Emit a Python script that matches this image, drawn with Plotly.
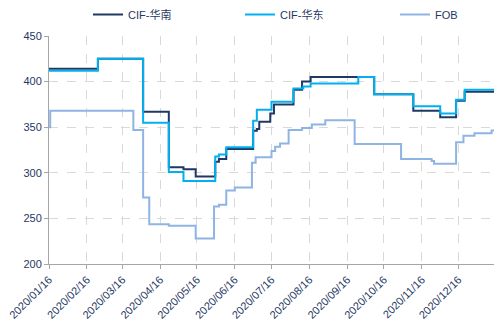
import plotly.graph_objects as go

# Price steps: each value holds from its date until the next date
south_dates = ["2020-01-16", "2020-02-25", "2020-04-02", "2020-04-23", "2020-05-05",
               "2020-05-15", "2020-05-31", "2020-06-03", "2020-06-09", "2020-07-01",
               "2020-07-04", "2020-07-06", "2020-07-15", "2020-07-18", "2020-08-03",
               "2020-08-10", "2020-08-17", "2020-10-08", "2020-11-09", "2020-12-01",
               "2020-12-14", "2020-12-21", "2021-01-14"]
south_values = [414, 425, 367, 306, 304,
                296, 312, 315, 326, 346,
                348, 356, 365, 375, 391,
                400, 405, 386, 368, 361,
                379, 389, 389]

east_dates = ["2020-01-16", "2020-02-25", "2020-04-02", "2020-04-23", "2020-05-05",
              "2020-05-31", "2020-06-03", "2020-06-09", "2020-07-01", "2020-07-04",
              "2020-07-16", "2020-08-03", "2020-08-11", "2020-08-17", "2020-09-25",
              "2020-10-08", "2020-11-09", "2020-12-01", "2020-12-14", "2020-12-21",
              "2021-01-14"]
east_values = [412, 425, 355, 301, 291,
               318, 320, 328, 357, 369,
               378, 392.5, 394.5, 398, 405,
               386, 373, 365, 380, 391,
               391]

fob_dates = ["2020-01-16", "2020-01-17", "2020-03-25", "2020-04-02", "2020-04-07",
             "2020-04-23", "2020-05-15", "2020-05-30", "2020-06-03", "2020-06-09",
             "2020-06-16", "2020-06-30", "2020-07-03", "2020-07-16", "2020-07-19",
             "2020-07-23", "2020-07-30", "2020-08-10", "2020-08-18", "2020-08-29",
             "2020-09-22", "2020-10-30", "2020-11-24", "2020-11-26", "2020-12-14",
             "2020-12-20", "2020-12-29", "2021-01-12", "2021-01-14"]
fob_values = [350, 368, 347, 273, 243.5,
              242, 228, 263, 265, 280.5,
              284, 311, 317, 324, 328.6,
              332, 347, 349, 353, 357.5,
              331.5, 315, 313, 310, 333.5,
              340.5, 343.5, 346.5, 346.5]

tick_dates = ["2020-01-16", "2020-02-16", "2020-03-16", "2020-04-16", "2020-05-16",
              "2020-06-16", "2020-07-16", "2020-08-16", "2020-09-16", "2020-10-16",
              "2020-11-16", "2020-12-16"]

navy = "#1f3864"
text_col = "#1f3864"
grid_col = "#d9d9d9"

fig = go.Figure()
fig.add_trace(go.Scatter(x=south_dates, y=south_values, name="CIF-华南", mode="lines",
                         line=dict(color=navy, width=2, shape="hv"), legend="legend"))
fig.add_trace(go.Scatter(x=east_dates, y=east_values, name="CIF-华东", mode="lines",
                         line=dict(color="#00b0f0", width=2, shape="hv"), legend="legend2"))
fig.add_trace(go.Scatter(x=fob_dates, y=fob_values, name="FOB", mode="lines",
                         line=dict(color="#8eb4e3", width=2, shape="hv"), legend="legend3"))

font_family = "Liberation Sans, Noto Sans CJK SC, sans-serif"


def legend_at(xpos):
    return dict(orientation="h", xref="container", yref="container",
                x=xpos, xanchor="left", y=1.0, yanchor="top",
                font=dict(size=11, color=text_col), bgcolor="rgba(0,0,0,0)")


fig.update_layout(
    width=494, height=329,
    margin=dict(l=49, r=0, t=36, b=65),
    paper_bgcolor="white", plot_bgcolor="white",
    font=dict(family=font_family, size=11, color=text_col),
    showlegend=True,
    legend=legend_at(88 / 494),
    legend2=legend_at(240 / 494),
    legend3=legend_at(395 / 494),
)

fig.update_xaxes(
    type="date", range=["2020-01-16", "2021-01-14"],
    tickvals=tick_dates, tickformat="%Y/%m/%d", tickangle=-45,
    showgrid=True, gridcolor=grid_col, griddash="dash", gridwidth=1,
    showline=True, linecolor="#a6a6a6", linewidth=1,
    ticks="outside", ticklen=4, tickcolor="#a6a6a6",
    tickfont=dict(size=11, color=text_col), zeroline=False,
)
fig.update_yaxes(
    range=[200, 450], dtick=50,
    showgrid=True, gridcolor=grid_col, griddash="dash", gridwidth=1,
    showline=True, linecolor="#a6a6a6", linewidth=1,
    ticks="outside", ticklen=4, tickcolor="#a6a6a6",
    tickfont=dict(size=11, color=text_col), zeroline=False,
)

fig.write_html("out.html")
